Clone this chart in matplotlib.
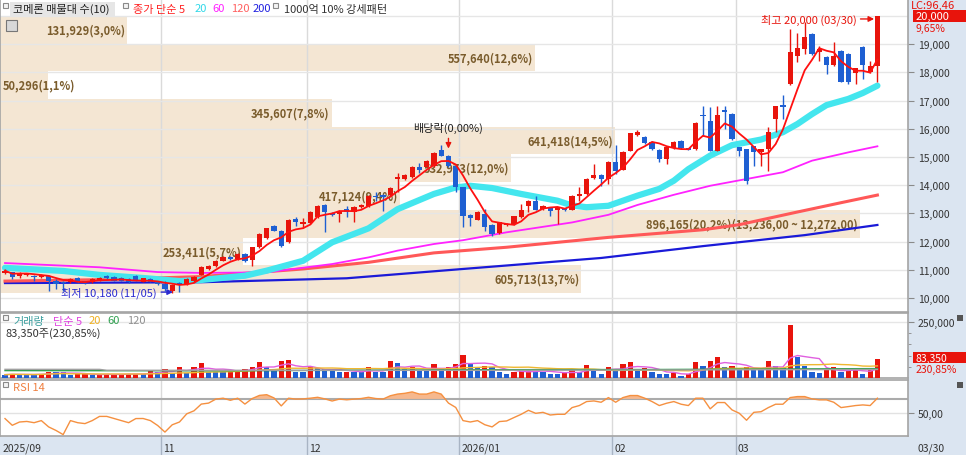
import numpy as np
import pandas as pd
import matplotlib
matplotlib.use("Agg")
import matplotlib.pyplot as plt
import matplotlib.transforms as mtransforms
from matplotlib.patches import Rectangle
from matplotlib.ticker import FuncFormatter

plt.rcParams['font.family'] = ['Noto Sans CJK KR', 'DejaVu Sans']

W, H = 966, 456
RIGHT = 908  # 오른쪽 가격축이 시작하는 위치(px)

# 일봉 (2025/09 말 ~ 2026/03/30, 121 거래일)
opens = [10886, 10910, 10792, 10816, 10792, 10757, 10792, 10615, 10579, 10579,
         10698, 10591, 10556, 10615, 10792, 10757, 10698, 10674, 10792, 10579,
         10674, 10579, 10496, 10250, 10520, 10498, 10600, 10820, 11030, 11122,
         11323, 11465, 11382, 11560, 11358, 11795, 12114, 12564, 12387, 11973,
         12800, 12623, 12659, 12860, 13297, 13014, 12978, 13155, 13061, 13238,
         13250, 13628, 13652, 13652, 14219, 14219, 14278, 14656, 14656, 14692,
         15259, 15047, 14693, 13925, 12943, 12777, 12979, 12589, 12305, 12589,
         12624, 12860, 13274, 13452, 13156, 13215, 13132, 13167, 13132, 13629,
         13688, 14244, 14362, 14220, 14812, 14551, 15224, 15780, 15721, 15520,
         15248, 14929, 15307, 15579, 15307, 15284, 16490, 16289, 15225, 16679,
         16525, 15343, 15284, 15378, 15166, 15284, 16347, 16844, 17588, 18570,
         18830, 19362, 18712, 18557, 18262, 18770, 18652, 17979, 18912, 18000,
         18240]
highs = [11028, 10930, 10930, 10900, 10820, 10850, 10830, 10674, 10600, 10700,
         10730, 10620, 10720, 10730, 10820, 10780, 10730, 10700, 10820, 10720,
         10700, 10610, 10615, 10480, 10556, 10700, 10790, 11130, 11180, 11350,
         11500, 11500, 11580, 11600, 11820, 12300, 12500, 12600, 12420, 12800,
         12860, 12830, 13070, 13300, 13330, 13050, 13130, 13270, 13270, 13330,
         13660, 13750, 13690, 13920, 14450, 14400, 14690, 14800, 14900, 15170,
         15437, 15080, 14720, 13950, 12980, 13070, 13156, 12620, 12710, 12650,
         12920, 13333, 13460, 13629, 13300, 13240, 13240, 13190, 13650, 13925,
         14250, 14752, 14380, 14860, 15437, 15210, 15860, 15969, 15750, 15550,
         15270, 15360, 15570, 15600, 15330, 16230, 16797, 16762, 16797, 16797,
         16550, 15370, 15300, 15400, 15300, 16053, 16820, 17199, 19539, 19397,
         19776, 19400, 18948, 18580, 19066, 18800, 18680, 18160, 18950, 18415,
         20000]
lows = [10851, 10674, 10698, 10780, 10615, 10720, 10260, 10319, 10260, 10540,
        10520, 10500, 10520, 10590, 10680, 10590, 10590, 10530, 10590, 10560,
        10560, 10470, 10260, 10180, 10200, 10470, 10580, 10800, 11000, 11100,
        11300, 11350, 11360, 11270, 11150, 11780, 12090, 12360, 11800, 11950,
        12560, 12470, 12640, 12840, 12328, 12900, 12700, 12860, 12700, 13200,
        13230, 13450, 13100, 13630, 13750, 14190, 14250, 14450, 14630, 14660,
        15020, 14650, 13748, 12507, 12565, 12750, 12388, 12210, 12280, 12560,
        12600, 12840, 13038, 13110, 13130, 12920, 12624, 13100, 13110, 13428,
        13660, 14220, 13984, 14043, 14397, 14530, 15200, 15750, 15460, 15260,
        14811, 14752, 15290, 15280, 15240, 15260, 15757, 15200, 15200, 15993,
        15600, 15047, 14043, 14693, 14693, 14516, 15875, 16347, 17560, 18380,
        18652, 18600, 18415, 17943, 18240, 17650, 17600, 17588, 17766, 17970,
        17647]
closes = [10969, 10757, 10875, 10875, 10745, 10816, 10615, 10496, 10532, 10674,
          10556, 10556, 10674, 10698, 10698, 10615, 10615, 10556, 10615, 10698,
          10579, 10496, 10319, 10450, 10480, 10674, 10760, 11100, 11150, 11323,
          11465, 11382, 11547, 11330, 11795, 12268, 12469, 12387, 11831, 12777,
          12705, 12682, 13037, 13274, 13061, 12942, 13096, 13061, 13238, 13297,
          13628, 13569, 13569, 13888, 14278, 14373, 14656, 14550, 14869, 15141,
          15046, 14693, 13925, 12920, 12848, 13038, 12507, 12270, 12683, 12624,
          12896, 13120, 13428, 13132, 13274, 13097, 13215, 13120, 13629, 13688,
          14220, 14362, 14220, 14835, 14516, 15189, 15839, 15875, 15485, 15284,
          14929, 15343, 15544, 15307, 15260, 16206, 16443, 15225, 16490, 16585,
          15638, 15225, 14161, 15166, 15284, 15875, 16797, 16762, 18712, 18853,
          19244, 18652, 18830, 18262, 18569, 17671, 17647, 18144, 18262, 18240,
          20000]
volumes = [14900, 17900, 15500, 15000, 14500, 19300, 26800, 26000, 25500, 11900,
           17900, 18500, 11900, 16000, 16500, 17000, 17500, 18000, 18500, 17000,
           30500, 29000, 41700, 23800, 49100, 23800, 49100, 68400, 27500, 27000,
           26500, 36000, 37000, 38000, 49100, 71400, 49100, 38700, 77400, 80400,
           27500, 26800, 49100, 42500, 41700, 29800, 27500, 28000, 27000, 26500,
           49100, 27500, 26800, 77400, 68400, 41700, 49100, 30500, 29800, 64000,
           41700, 49100, 64000, 104000, 62500, 49100, 52000, 47600, 25300, 19300,
           25300, 32700, 35700, 32700, 28300, 19300, 16400, 22300, 37200, 28300,
           58000, 32700, 16400, 50600, 40200, 61000, 72900, 31200, 43200, 25300,
           19300, 16400, 22300, 10400, 17900, 72900, 52000, 75900, 95200, 49100,
           55000, 37200, 47600, 37200, 36500, 75900, 52000, 43200, 238000, 92300,
           52000, 28300, 22300, 37200, 47600, 28300, 32700, 33500, 19300, 36106,
           83350]
rsi14 = [41.9, 32.3, 37.0, 37.8, 36.0, 39.0, 30.0, 25.0, 19.0, 39.0,
         36.0, 34.7, 39.0, 45.0, 45.0, 42.0, 39.0, 36.0, 41.9, 42.0,
         39.0, 32.0, 22.6, 33.0, 37.0, 48.7, 53.0, 62.6, 64.0, 69.7,
         71.0, 68.0, 71.0, 62.6, 70.5, 75.0, 76.0, 71.4, 60.0, 71.0,
         69.7, 70.0, 71.0, 72.3, 70.0, 67.0, 69.7, 68.7, 69.7, 70.5,
         72.3, 70.5, 69.7, 74.5, 76.9, 78.0, 80.0, 76.9, 76.9, 80.0,
         76.9, 64.0, 57.8, 39.0, 37.0, 39.0, 33.1, 30.0, 37.6, 38.5,
         43.3, 48.0, 53.7, 49.4, 50.8, 47.0, 48.0, 48.0, 57.6, 60.5,
         66.2, 67.1, 65.2, 71.9, 65.2, 71.9, 74.8, 74.8, 71.0, 66.2,
         60.5, 63.8, 66.2, 62.4, 60.5, 71.0, 71.0, 55.8, 64.8, 64.8,
         54.3, 49.5, 39.5, 50.8, 51.7, 57.6, 62.4, 62.4, 71.9, 73.3,
         73.3, 70.0, 68.6, 68.6, 65.2, 57.6, 59.0, 60.5, 61.4, 60.5,
         71.0]

# 월 경계 (캔들 인덱스)와 라벨
month_starts = [21.5, 41.5, 62.5, 83.5, 100.5]
month_labels = ['11', '12', '2026/01', '02', '03']
first_label = '2025/09'
last_date = '03/30'
high_date = '03/30'
low_date = '11/05'
div_idx = 61
div_label = '배당락(0,00%)'
lc_label = 'LC:96,46'

# 장기 이동평균선 (화면에서 읽은 점)
ma20_idx = [0, 8, 13, 19, 24, 27, 33, 36, 41, 45, 50, 54, 59, 62, 64, 67, 71, 76, 78,
            80, 83, 85, 87, 90, 92, 94, 97, 100, 102, 104, 107, 109, 111, 113, 116, 118, 120]
ma20_val = [11070, 10960, 10820, 10710, 10600, 10640, 10790, 10970, 11320, 11975, 12470,
            13150, 13690, 13920, 13980, 13900, 13690, 13450, 13280, 13220, 13270, 13450,
            13630, 13870, 14160, 14570, 15050, 15420, 15520, 15620, 15880, 16170, 16520,
            16840, 17060, 17270, 17530]
ma60_idx = [0, 13, 21, 27, 36, 45, 50, 54, 59, 63, 69, 78, 83, 87, 92, 97, 102, 107, 111, 116, 120]
ma60_val = [11240, 11090, 10920, 10890, 10910, 11205, 11440, 11680, 11915, 12050, 12330,
            12680, 12950, 13300, 13660, 13980, 14220, 14460, 14870, 15165, 15380]
ma120_idx = [0, 13, 27, 41, 50, 59, 69, 83, 96, 101, 109, 115, 120]
ma120_val = [10600, 10650, 10760, 11030, 11265, 11600, 11800, 12150, 12420, 12600, 13050, 13380, 13650]
ma200_idx = [0, 27, 47, 63, 82, 96, 110, 120]
ma200_val = [10530, 10560, 10700, 11030, 11420, 11840, 12230, 12590]

# 거래량 장기 이동평균 (화면에서 읽은 점)
vma60_idx = [0, 30, 65, 90, 120]
vma60_val = [33000, 32000, 37000, 38000, 42000]
vma120_idx = [0, 13, 14, 65, 120]
vma120_val = [38700, 38500, 34500, 34000, 38000]

# 매물대 (아래 구간부터)
band_volumes = [605713, 253411, 896165, 417124, 532973, 641418, 345607, 50296, 557640, 131929]
band_pcts = [13.7, 5.7, 20.2, 9.4, 12.0, 14.5, 7.8, 1.1, 12.6, 3.0]
band_note = '(13,236,00 ~ 12,272,00)'

RED = '#e8140c'
BLUE = '#1e5fd2'
BEIGE = '#f4e6d3'
BROWN = '#7a5c2c'

o = np.array(opens)
h = np.array(highs)
l = np.array(lows)
c = np.array(closes)
v = np.array(volumes)
idx = np.arange(len(c))


def comma(x, nd):
    return f"{x:,.{nd}f}".replace(',', '#').replace('.', ',').replace('#', ',')


fig = plt.figure(figsize=(W / 100, H / 100), dpi=100)


def fx(px):
    return px / W


def fy(py):
    return 1 - py / H


def panel(top, bottom):
    return fig.add_axes([0, fy(bottom), fx(RIGHT), (bottom - top) / H])


def square(px, py, color='#8a8a8a'):
    fig.add_artist(Rectangle((fx(px), fy(py + 3)), 5 / W, 5 / H, transform=fig.transFigure,
                             facecolor='#f4f4f4', edgecolor=color, lw=0.8, zorder=10))


def ftext(px, py, s, color='#222222', size=8, **kw):
    fig.text(fx(px), fy(py), s, color=color, fontsize=size, va='center', ha='left', **kw)


# 오른쪽 / 아래 축 영역 배경
fig.add_artist(Rectangle((fx(RIGHT), 0), 1 - fx(RIGHT), 1, transform=fig.transFigure,
                         facecolor='#dbe5f1', lw=0, zorder=-5))
fig.add_artist(Rectangle((0, 0), fx(RIGHT), fy(437), transform=fig.transFigure,
                         facecolor='#dbe5f1', lw=0, zorder=-5))

ax_p = panel(0, 313)
ax_v = panel(314, 379)
ax_r = panel(381, 437)

xlim = (-5 / 7.27, (RIGHT - 5) / 7.27)
for ax in (ax_p, ax_v, ax_r):
    ax.set_xlim(*xlim)
    ax.set_xticks([])
    for s in ax.spines.values():
        s.set_color('#a4a4a4')
        s.set_linewidth(1.2)
    ax.yaxis.tick_right()
    ax.tick_params(axis='y', which='both', direction='out', length=4, color='#8a8a8a',
                   labelsize=7.5, labelcolor='#333333', pad=3)
    for m in month_starts:
        ax.axvline(m, color='#dadada', lw=1, zorder=1)

# ---------------- 가격 패널 ----------------
ax_p.set_ylim(9504, 20603)
ax_p.set_yticks(range(10000, 20000, 1000))
ax_p.yaxis.set_major_formatter(FuncFormatter(lambda val, p: f"{int(val):,}"))
for lvl in range(10000, 20001, 1000):
    ax_p.axhline(lvl, color='#e6e6e6', lw=1, zorder=1)

# 매물대
band_tr = mtransforms.blended_transform_factory(ax_p.transAxes, ax_p.transData)
edges = np.linspace(l.min(), h.max(), len(band_volumes) + 1)
vmax = max(band_volumes)
renderer = fig.canvas.get_renderer()
ax_w = ax_p.get_window_extent(renderer).width
for k, (bv, pct) in enumerate(zip(band_volumes, band_pcts)):
    w = 0.947 * bv / vmax
    ax_p.add_patch(Rectangle((0, edges[k]), w, edges[k + 1] - edges[k], transform=band_tr,
                             facecolor=BEIGE, lw=0, zorder=0.5))
    label = f"{bv:,}({comma(pct, 1)}%)"
    if bv == vmax:
        label += band_note
    t = ax_p.text(w - 0.002, (edges[k] + edges[k + 1]) / 2, label, transform=band_tr,
                  ha='right', va='center', fontsize=8, color=BROWN, fontweight='bold', zorder=2)
    # 구간이 글자보다 짧으면 왼쪽 끝에서 시작
    if t.get_window_extent(renderer).width > w * ax_w - 4:
        t.set_x(0.003)
        t.set_ha('left')

# 이동평균선
ax_p.plot(ma200_idx, ma200_val, color='#1a1ad8', lw=1.6, zorder=2)
ax_p.plot(ma120_idx, ma120_val, color='#ff5858', lw=2.2, zorder=2)
ax_p.plot(ma60_idx, ma60_val, color='#ff22ff', lw=1.3, zorder=2)
ax_p.plot(ma20_idx, ma20_val, color='#44e6ee', lw=4.5, zorder=2, solid_capstyle='round')

# 캔들
up = c >= o
col = np.where(up, RED, BLUE)
ax_p.vlines(idx, l, h, colors=col, lw=1, zorder=3)
body = np.maximum(np.abs(c - o), 30)
ax_p.bar(idx, body, bottom=np.minimum(o, c), width=0.72, color=col, lw=0, zorder=4)

ma5 = pd.Series(c).rolling(5, min_periods=1).mean()
ax_p.plot(idx, ma5, color='#ff1010', lw=1.3, zorder=5)

# 최고 / 최저 / 배당락 표시
imax, imin = int(np.argmax(h)), int(np.argmin(l))
ax_p.annotate(f"최고 {h[imax]:,} ({high_date})", xy=(imax - 0.45, h[imax] - 105),
              xytext=(imax - 2.9, h[imax] - 105), ha='right', va='center', color=RED, fontsize=8,
              arrowprops=dict(arrowstyle='-|>', color=RED, lw=1, shrinkA=1, shrinkB=0,
                              mutation_scale=8), zorder=6)
ax_p.annotate(f"최저 {l[imin]:,} ({low_date})", xy=(imin + 0.1, l[imin] + 30),
              xytext=(imin - 2.1, l[imin] + 30), ha='right', va='center', color='#2a2ad0',
              fontsize=8, arrowprops=dict(arrowstyle='-|>', color='#2a2ad0', lw=1, shrinkA=1,
                                          shrinkB=0, mutation_scale=8), zorder=6)
ax_p.text(div_idx, 16064, div_label, ha='center', va='center', fontsize=8, color='#222222', zorder=6)
ax_p.annotate('', xy=(div_idx, h[div_idx] + 120), xytext=(div_idx, 15760),
              arrowprops=dict(arrowstyle='-|>', color=RED, lw=1, mutation_scale=8), zorder=6)

# ---------------- 거래량 패널 ----------------
ax_v.set_ylim(0, 290000)
ax_v.set_yticks([250000])
ax_v.set_yticks([50000, 100000, 150000, 200000], minor=True)
ax_v.tick_params(axis='y', which='minor', length=2)
ax_v.yaxis.set_major_formatter(FuncFormatter(lambda val, p: f"{int(val):,}"))
ax_v.axhline(250000, color='#e6e6e6', lw=1, zorder=1)
vol_up = np.r_[False, v[1:] > v[:-1]]
ax_v.bar(idx, v, width=0.72, color=np.where(vol_up, RED, BLUE), lw=0, zorder=3)
ax_v.plot(idx, pd.Series(v).rolling(5, min_periods=1).mean(), color='#e060e0', lw=1, zorder=4)
ax_v.plot(idx, pd.Series(v).rolling(20, min_periods=1).mean(), color='#f0b830', lw=1, zorder=4)
ax_v.plot(vma60_idx, vma60_val, color='#30a050', lw=1, zorder=4)
ax_v.plot(vma120_idx, vma120_val, color='#a0a0a0', lw=1, zorder=4)

# ---------------- RSI 패널 ----------------
rsi = np.array(rsi14)
ax_r.set_ylim(17, 97)
ax_r.set_yticks([50])
ax_r.yaxis.set_major_formatter(FuncFormatter(lambda val, p: comma(val, 2)))
ax_r.axhline(70, color='#ababab', lw=1.5, zorder=1)
ax_r.axhline(50, color='#e2e2e2', lw=1, zorder=1)
ax_r.fill_between(idx, rsi, 70, where=rsi > 70, interpolate=True, color='#f6b88e', lw=0, zorder=2)
ax_r.plot(idx, rsi, color='#f59040', lw=1, zorder=3)

# 날짜 축
date_tr = mtransforms.blended_transform_factory(ax_r.transData, ax_r.transAxes)
ax_r.vlines(month_starts, -0.34, 0, transform=date_tr, colors='#a8b4c4', lw=1, clip_on=False)
ax_r.text(xlim[0] + 0.3, -0.21, first_label, transform=date_tr, ha='left', va='center',
          fontsize=7.5, color='#333333')
for m, lab in zip(month_starts, month_labels):
    ax_r.text(m + 0.3, -0.21, lab, transform=date_tr, ha='left', va='center',
              fontsize=7.5, color='#333333')
ftext(917, 449, last_date, color='#333333', size=7.5)

# ---------------- 범례 / 오른쪽 값 표시 ----------------
square(3, 6)
fig.add_artist(Rectangle((fx(10), fy(17)), 105 / W, 14 / H, transform=fig.transFigure,
                         facecolor='#e6e6e6', lw=0, zorder=9))
ftext(13, 9.5, '코메론 매물대 수(10)', size=8, zorder=11)
square(123, 6)
ftext(133, 9.5, '종가 단순 5', color='#ff2020', size=8)
ftext(195, 9.5, '20', color='#30d8e8', size=8)
ftext(212, 9.5, '60', color='#ff20ff', size=8)
ftext(231, 9.5, '120', color='#ff6060', size=8)
ftext(253, 9.5, '200', color='#2020e0', size=8)
square(273, 6)
ftext(284, 9.5, '1000억 10% 강세패턴', color='#333333', size=8)
fig.add_artist(Rectangle((fx(6), fy(32)), 11 / W, 11 / H, transform=fig.transFigure,
                         facecolor='#d8d8d8', edgecolor='#777777', lw=0.8, zorder=10))

square(3, 318)
ftext(13, 321.5, '거래량', color='#3a9e9e', size=8)
ftext(53, 321.5, '단순 5', color='#e040e0', size=8)
ftext(89, 321.5, '20', color='#f0b020', size=8)
ftext(107, 321.5, '60', color='#30a050', size=8)
ftext(127, 321.5, '120', color='#909090', size=8)
ratio = v[-1] / v[-2] * 100
ftext(5, 333.5, f"{v[-1]:,}주({comma(ratio, 2)}%)", color='#333333', size=8)

square(3, 385)
ftext(13, 388.5, 'RSI 14', color='#f08040', size=8)

chg = (c[-1] / c[-2] - 1) * 100
ftext(911, 6, lc_label, color=RED, size=8)
fig.add_artist(Rectangle((fx(913), fy(23)), 53 / W, 12 / H, transform=fig.transFigure,
                         facecolor=RED, lw=0, zorder=10))
ftext(916, 17, f"{c[-1]:,}", color='white', size=8, zorder=11)
ftext(916, 29, f"{comma(chg, 2)}%", color=RED, size=7.5)

fig.add_artist(Rectangle((fx(913), fy(364)), 53 / W, 11 / H, transform=fig.transFigure,
                         facecolor=RED, lw=0, zorder=10))
ftext(916, 358.5, f"{v[-1]:,}", color='white', size=7.5, zorder=11)
ftext(916, 370, f"{comma(ratio, 2)}%", color=RED, size=7.5)

for py in (316, 383):
    fig.add_artist(Rectangle((fx(957), fy(py + 6)), 6 / W, 6 / H, transform=fig.transFigure,
                             facecolor='#555555', lw=0, zorder=10))

fig.savefig('out.png', dpi=100)
